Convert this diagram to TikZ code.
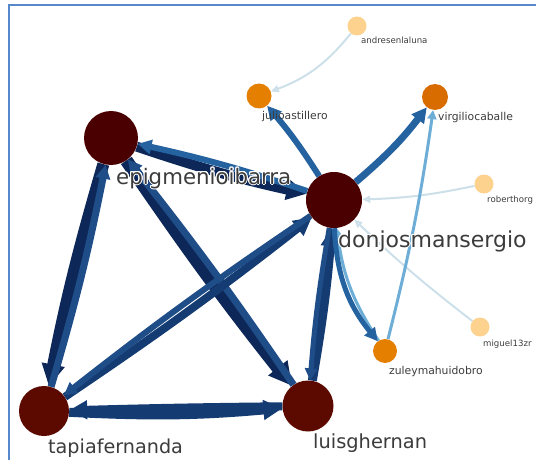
\documentclass[tikz,border=0pt]{standalone}
\usepackage{fontspec}
\usepackage[copies]{contour}
\usetikzlibrary{arrows.meta, backgrounds}
\newfontfamily\labelfont{DejaVu Sans}
\definecolor{HubRed}{RGB}{74,0,0}
\definecolor{HubRedB}{RGB}{92,10,0}
\definecolor{MidOrange}{RGB}{229,127,0}
\definecolor{MidOrangeB}{RGB}{217,108,0}
\definecolor{LeafOrange}{RGB}{253,210,142}
\definecolor{Navy}{RGB}{13,40,88}
\definecolor{NavyB}{RGB}{20,59,114}
\definecolor{NavyC}{RGB}{31,77,136}
\definecolor{SteelBlue}{RGB}{37,98,160}
\definecolor{SkyBlue}{RGB}{110,174,214}
\definecolor{PaleBlue}{RGB}{205,224,234}
\definecolor{LabelGray}{RGB}{60,60,60}
\definecolor{FrameBlue}{RGB}{88,136,204}
\contourlength{1pt}

\begin{document}
\begin{tikzpicture}[x=1pt, y=-1pt,
	hub/.style={circle, inner sep=0pt, minimum size=#1},
	link/.style n args={3}{draw=#2, line width=#1, -{Triangle[length=#3, width=#3]}},
	faint/.style={draw=PaleBlue, line width=2pt, -{Triangle[open, length=8pt, width=7pt]}},
	lbl/.style={anchor=base west, inner sep=0pt, text=LabelGray, font=\labelfont\fontsize{#1}{#1}\selectfont}
	]
	\useasboundingbox (0,0) rectangle (536,460);
	% frame
	\draw[FrameBlue, line width=2pt] (9,460) -- (9,5.5) -- (536,5.5);
	
	% nodes
	\node[hub=54pt, fill=HubRed] (epig) at (111,138) {};
	\node[hub=56pt, fill=HubRed] (donjos) at (334,200) {};
	\node[hub=50pt, fill=HubRedB] (tapia) at (44,411) {};
	\node[hub=51pt, fill=HubRedB] (luis) at (308,406) {};
	\node[hub=25pt, fill=MidOrange] (julio) at (259,96) {};
	\node[hub=26pt, fill=MidOrangeB] (virgilio) at (435,97) {};
	\node[hub=24pt, fill=MidOrange] (zuley) at (385,351) {};
	\node[hub=19pt, fill=LeafOrange] (andres) at (357,26) {};
	\node[hub=19pt, fill=LeafOrange] (roberth) at (484,184) {};
	\node[hub=19pt, fill=LeafOrange] (miguel) at (480,327) {};
	
	\begin{scope}[on background layer]
		% weak ties
		\draw[faint, bend left=15] (andres) to (julio);
		\draw[faint, bend left=5] (roberth) to (donjos);
		\draw[faint, bend left=3] (miguel) to (donjos);
		
		% core ties
		\draw[link={12pt}{Navy}{22pt}, bend right=2.5] (epig) to (tapia);
		\draw[link={7pt}{NavyC}{14pt}, bend right=2.5] (tapia) to (epig);
		\draw[link={13pt}{Navy}{23pt}, bend right=2] (epig) to (luis);
		\draw[link={7pt}{NavyC}{14pt}, bend right=2] (luis) to (epig);
		\draw[link={10pt}{Navy}{20pt}, bend right=3] (epig) to (donjos);
		\draw[link={6pt}{SteelBlue}{14pt}, bend right=3] (donjos) to (epig);
		\draw[link={8pt}{NavyB}{18pt}, bend right=2] (tapia) to (donjos);
		\draw[link={6pt}{NavyC}{13pt}, bend right=2] (donjos) to (tapia);
		\draw[link={9pt}{NavyB}{19pt}, bend right=4] (tapia) to (luis);
		\draw[link={8pt}{NavyB}{18pt}, bend right=0.5] (luis) to (tapia);
		\draw[link={9pt}{NavyB}{18pt}, bend right=2.5] (luis) to (donjos);
		\draw[link={5pt}{NavyC}{12pt}, bend right=2.5] (donjos) to (luis);
		
		% outer ties
		\draw[link={6pt}{SteelBlue}{14pt}, bend right=4] (donjos) to (julio);
		\draw[link={7pt}{SteelBlue}{15pt}, bend right=6] (donjos) to (virgilio);
		\draw[link={3pt}{SkyBlue}{8pt}, bend left=13] (zuley) to (donjos);
		\draw[link={5pt}{SteelBlue}{13pt}, bend right=18] (donjos) to (zuley);
		\draw[link={3pt}{SkyBlue}{9pt}, bend right=3] (zuley) to (virgilio);
	\end{scope}
	
	% labels
	\node[lbl=21.3] (epig-l) at (116,184) {\contour{white}{epigmenioibarra}};
	\node[lbl=22] (donjos-l) at (338,247) {\contour{white}{donjosmansergio}};
	\node[lbl=19.2] (tapia-l) at (48,453) {\contour{white}{tapiafernanda}};
	\node[lbl=19.4] (luis-l) at (313,448) {\contour{white}{luisghernan}};
	\node[lbl=10.8] (julio-l) at (262,119) {julioastillero};
	\node[lbl=10.8] (virgilio-l) at (438,121) {virgiliocaballe};
	\node[lbl=10.8] (zuley-l) at (389,374) {zuleymahuidobro};
	\node[lbl=8.6] (andres-l) at (361,44) {andresenlaluna};
	\node[lbl=8.6] (roberth-l) at (487,202) {roberthorg};
	\node[lbl=8.6] (miguel-l) at (483,346) {miguel13zr};
\end{tikzpicture}
\end{document}
